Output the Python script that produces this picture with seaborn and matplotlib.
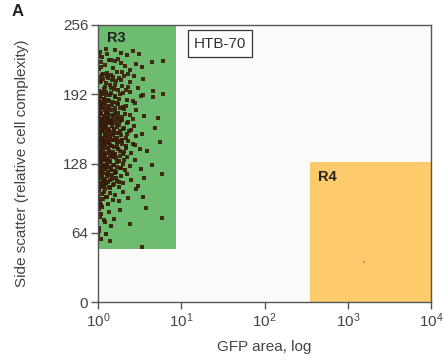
import matplotlib
matplotlib.use("Agg")
import matplotlib.pyplot as plt
import seaborn as sns
import pandas as pd
from matplotlib.patches import Rectangle

# ---- data ----
x_ticks = [1, 10, 100, 1000, 10000]
x_tick_labels = ["$10^0$", "$10^1$", "$10^2$", "$10^3$", "$10^4$"]
y_ticks = [0, 64, 128, 192, 256]

# gates (GFP area range, side-scatter range)
r3_gfp = [1, 8.65]
r3_ssc = [49, 256]
r4_gfp = [352, 10000]
r4_ssc = [0, 129]

# events (GFP area, side scatter)
gfp = [
    1.05, 1.30, 1.60, 1.12, 1.90, 2.20, 1.45, 1.02, 2.60, 1.75,
    1.25, 3.10, 1.08, 1.22, 1.50, 1.90, 2.40, 1.15, 1.35, 1.70,
    2.10, 2.90, 1.03, 1.28, 1.60, 3.40, 1.42, 1.95, 4.45, 6.00,
    1.10, 2.30, 1.02, 1.07, 1.15, 1.20, 1.30, 1.38, 1.47, 1.55,
    1.66, 1.80, 1.95, 2.15, 2.40, 2.70, 3.00, 1.04, 1.12, 1.25,
    1.33, 1.42, 1.60, 1.72, 1.88, 2.05, 2.30, 1.09, 1.18, 3.50,
    4.60, 1.50, 1.01, 1.04, 1.06, 1.09, 1.13, 1.17, 1.21, 1.26,
    1.31, 1.37, 1.44, 1.52, 1.61, 1.72, 1.85, 2.00, 2.20, 2.45,
    2.80, 3.30, 1.02, 1.05, 1.08, 1.11, 1.15, 1.19, 1.24, 1.29,
    1.35, 1.41, 1.49, 1.58, 1.68, 1.80, 1.97, 2.15, 2.60, 3.45,
    4.60, 6.00, 1.01, 1.03, 1.05, 1.07, 1.10, 1.12, 1.15, 1.18,
    1.22, 1.25, 1.29, 1.33, 1.38, 1.43, 1.48, 1.54, 1.60, 1.67,
    1.75, 1.84, 1.94, 2.05, 2.20, 2.40, 2.65, 1.02, 1.04, 1.06,
    1.09, 1.11, 1.14, 1.17, 1.20, 1.24, 1.28, 1.32, 1.36, 1.41,
    1.46, 1.52, 1.58, 1.65, 1.73, 1.82, 1.92, 2.10, 2.30, 2.90,
    3.60, 5.20, 1.00, 1.02, 1.03, 1.05, 1.07, 1.08, 1.10, 1.13,
    1.15, 1.18, 1.21, 1.24, 1.27, 1.30, 1.34, 1.38, 1.42, 1.47,
    1.52, 1.57, 1.63, 1.70, 1.78, 1.86, 1.96, 2.08, 2.25, 2.50,
    2.85, 1.01, 1.04, 1.06, 1.09, 1.12, 1.14, 1.17, 1.20, 1.23,
    1.26, 1.31, 1.36, 1.40, 1.45, 1.50, 1.56, 1.62, 1.69, 1.77,
    1.88, 2.00, 2.15, 2.35, 2.70, 3.40, 4.80, 1.02, 1.05, 1.08,
    1.11, 1.14, 1.16, 1.19, 1.22, 1.26, 1.29, 1.33, 1.37, 1.41,
    1.46, 1.51, 1.56, 1.62, 1.68, 1.75, 1.83, 1.92, 2.02, 2.14,
    2.28, 2.46, 2.75, 3.20, 1.01, 1.03, 1.06, 1.08, 1.10, 1.13,
    1.16, 1.19, 1.23, 1.27, 1.31, 1.35, 1.39, 1.44, 1.49, 1.55,
    1.61, 1.67, 1.74, 1.82, 1.91, 2.03, 2.18, 2.60, 3.90, 5.60,
    1.00, 1.02, 1.04, 1.06, 1.08, 1.11, 1.13, 1.16, 1.19, 1.22,
    1.25, 1.29, 1.33, 1.37, 1.42, 1.47, 1.52, 1.58, 1.64, 1.71,
    1.79, 1.88, 1.98, 2.10, 2.25, 2.45, 2.75, 3.30, 1.01, 1.03,
    1.05, 1.07, 1.10, 1.12, 1.15, 1.18, 1.21, 1.24, 1.28, 1.32,
    1.36, 1.40, 1.45, 1.50, 1.56, 1.63, 1.70, 1.85, 2.05, 4.40,
    1.01, 1.03, 1.05, 1.07, 1.10, 1.13, 1.16, 1.19, 1.23, 1.27,
    1.31, 1.36, 1.41, 1.47, 1.53, 1.60, 1.68, 1.77, 1.88, 2.00,
    2.20, 2.50, 3.00, 3.60, 1.02, 1.04, 1.08, 1.11, 1.14, 1.18,
    1.22, 1.26, 1.30, 1.35, 1.40, 1.46, 1.55, 1.65, 1.80, 5.80,
    1.01, 1.04, 1.07, 1.11, 1.15, 1.20, 1.26, 1.33, 1.41, 1.50,
    1.62, 1.78, 1.98, 2.30, 2.90, 3.50, 1.03, 1.09, 1.17, 1.29,
    1.02, 1.06, 1.13, 1.22, 1.35, 1.55, 1.85, 2.40, 1.04, 1.10,
    1.18, 1.45, 3.80, 5.90, 1.01, 1.08, 1.39, 3.40, 1.02, 1.25,
]
ssc = [
    231, 229, 233, 226, 230, 228, 224, 227, 232, 225,
    234, 229, 222, 219, 216, 221, 214, 211, 224, 213,
    218, 220, 215, 212, 223, 217, 210, 213, 222, 223,
    217, 211, 208, 203, 206, 199, 209, 201, 205, 197,
    204, 207, 200, 196, 203, 209, 198, 195, 210, 202,
    207, 198, 201, 196, 205, 209, 199, 204, 197, 206,
    195, 208, 193, 186, 190, 182, 194, 188, 184, 191,
    187, 181, 193, 185, 189, 183, 192, 180, 187, 194,
    184, 190, 181, 189, 185, 192, 183, 188, 194, 180,
    186, 191, 182, 190, 184, 188, 193, 181, 186, 191,
    189, 192, 172, 166, 178, 169, 175, 167, 179, 171,
    165, 176, 170, 174, 168, 177, 166, 173, 179, 169,
    175, 167, 171, 178, 165, 173, 169, 176, 170, 165,
    174, 179, 168, 172, 177, 166, 175, 170, 178, 167,
    173, 169, 176, 165, 171, 179, 168, 174, 166, 177,
    172, 170, 157, 151, 163, 154, 160, 152, 164, 158,
    150, 161, 155, 162, 153, 159, 165, 151, 157, 163,
    154, 160, 156, 152, 164, 158, 150, 161, 155, 159,
    153, 162, 150, 156, 164, 152, 158, 161, 154, 163,
    151, 157, 160, 153, 165, 155, 159, 151, 162, 156,
    154, 160, 152, 158, 163, 155, 161, 146, 139, 143,
    136, 148, 141, 137, 145, 149, 138, 142, 147, 135,
    144, 139, 150, 136, 143, 148, 140, 146, 137, 142,
    149, 138, 145, 141, 147, 135, 140, 150, 137, 144,
    139, 146, 136, 142, 148, 140, 145, 138, 150, 143,
    137, 147, 141, 135, 149, 139, 144, 146, 140, 148,
    128, 122, 133, 125, 130, 121, 134, 127, 124, 131,
    126, 132, 120, 129, 123, 135, 127, 121, 133, 125,
    130, 124, 128, 122, 134, 126, 131, 123, 120, 127,
    133, 124, 129, 121, 135, 126, 131, 123, 128, 132,
    125, 130, 122, 134, 127, 120, 129, 124, 131, 127,
    113, 107, 118, 110, 115, 106, 119, 112, 109, 116,
    111, 117, 105, 114, 108, 119, 112, 106, 116, 110,
    118, 113, 107, 115, 105, 120, 109, 116, 112, 107,
    114, 110, 118, 106, 113, 117, 109, 115, 111, 118,
    98, 103, 92, 100, 95, 104, 97, 91, 101, 94,
    99, 93, 102, 96, 104, 97, 95, 90, 102, 97,
    86, 79, 88, 74, 83, 77, 85, 72, 68, 81,
    76, 70, 87, 78, 62, 58, 56, 51, 66, 63,
]
r4_event_gfp = [1567]
r4_event_ssc = [37]

# ---- styling ----
sns.set_theme(style="white")
plt.rcParams["font.family"] = ["Liberation Sans", "DejaVu Sans"]
plt.rcParams["mathtext.fontset"] = "custom"
plt.rcParams["mathtext.rm"] = "Liberation Sans"
plt.rcParams["mathtext.it"] = "Liberation Sans"

fig = plt.figure(figsize=(4.44, 3.62), dpi=100)
ax = fig.add_axes([98 / 444, 60 / 362, 333 / 444, 277 / 362])
ax.set_facecolor("#fbfbfb")

ax.set_xscale("log")
ax.set_xlim(1, 10000)
ax.set_ylim(0, 256)

ax.add_patch(Rectangle((r3_gfp[0], r3_ssc[0]), r3_gfp[1] - r3_gfp[0],
                       r3_ssc[1] - r3_ssc[0], facecolor="#6dbc6f",
                       edgecolor="none", zorder=1))
ax.add_patch(Rectangle((r4_gfp[0], r4_ssc[0]), r4_gfp[1] - r4_gfp[0],
                       r4_ssc[1] - r4_ssc[0], facecolor="#fdca6c",
                       edgecolor="none", zorder=1))

df = pd.DataFrame({"gfp": gfp, "ssc": ssc})
sns.scatterplot(data=df, x="gfp", y="ssc", ax=ax, marker="s", s=5,
                color="#3a1a0a", linewidth=0, alpha=0.9, zorder=3)
sns.scatterplot(x=r4_event_gfp, y=r4_event_ssc, ax=ax, marker="s", s=2,
                color="#e9874e", linewidth=0, zorder=3)

ax.text(1.3, 250, "R3", fontsize=10.5, fontweight="bold", color="#222222",
        va="top", ha="left", zorder=4)
ax.text(440, 122, "R4", fontsize=10.5, fontweight="bold", color="#222222",
        va="top", ha="left", zorder=4)
ax.text(0.366, 0.933, "HTB-70", transform=ax.transAxes, fontsize=11,
        color="#333333", ha="center", va="center", zorder=4,
        bbox=dict(boxstyle="square,pad=0.4", facecolor="white",
                  edgecolor="#333333", linewidth=0.9))

ax.set_xticks(x_ticks)
ax.set_xticklabels(x_tick_labels)
ax.minorticks_off()
ax.set_yticks(y_ticks)
ax.tick_params(axis="both", direction="out", length=5, width=1,
               color="#555555", labelcolor="#444444", labelsize=11, pad=2,
               bottom=True, left=True)
for sp in ax.spines.values():
    sp.set_color("#555555")
    sp.set_linewidth(1)
    sp.set_zorder(5)

ax.set_xlabel("GFP area, log", fontsize=11, color="#444444", labelpad=7)
ax.set_ylabel("Side scatter (relative cell complexity)", fontsize=11,
              color="#444444", labelpad=24)

fig.text(12 / 444, 1 - 12 / 362, "A", fontsize=12, fontweight="bold",
         color="#222222", ha="left", va="center")

fig.savefig("out.png", dpi=100, facecolor="white")
